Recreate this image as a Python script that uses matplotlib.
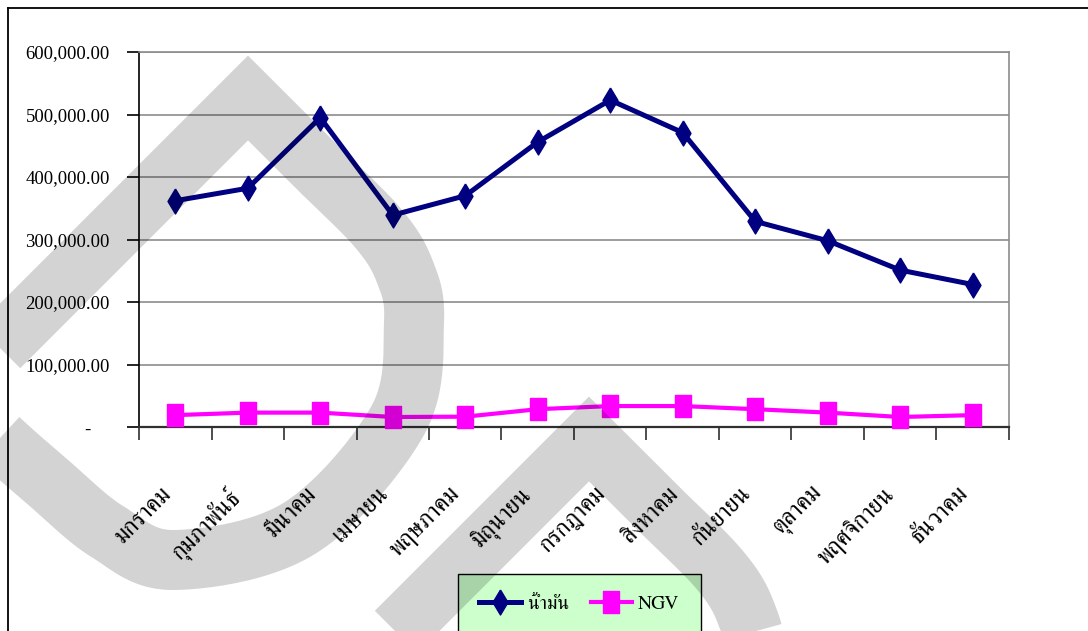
import numpy as np
import matplotlib
matplotlib.use('Agg')
import matplotlib.pyplot as plt
from matplotlib.path import Path
from matplotlib.patches import PathPatch
from matplotlib.lines import Line2D

# ---------------- data ----------------
months = ['มกราคม', 'กุมภาพันธ์', 'มีนาคม', 'เมษายน', 'พฤษภาคม', 'มิถุนายน',
          'กรกฎาคม', 'สิงหาคม', 'กันยายน', 'ตุลาคม', 'พฤศจิกายน', 'ธันวาคม']
oil = [362000, 382000, 495000, 339000, 370000, 456000,
       523000, 471000, 329000, 298000, 251000, 228000]
ngv = [19000, 23000, 23000, 16000, 16500, 28500,
       33500, 33500, 28500, 23000, 16000, 19000]
series_names = ['น้ำมัน', 'NGV']
y_ticks = [0, 100000, 200000, 300000, 400000, 500000, 600000]
y_labels = ['-    ', '100,000.00', '200,000.00', '300,000.00', '400,000.00', '500,000.00', '600,000.00']

# ---------------- fonts ----------------
serif = ['Liberation Serif', 'DejaVu Serif']
thai_family = ['FreeSerif', 'Liberation Serif', 'DejaVu Serif']

W, H = 1088, 631
fig = plt.figure(figsize=(W / 100, H / 100), dpi=100)
fig.patch.set_facecolor('white')

def fx(px):
    return px / W

def fy(py):
    return 1 - py / H

ax = fig.add_axes([fx(139), fy(427), fx(1009) - fx(139), fy(52) - fy(427)])
x = np.arange(len(months))

diamond = [(0, 1), (0.6, 0), (0, -1), (-0.6, 0), (0, 1)]
rect = [(-0.73, -1), (0.73, -1), (0.73, 1), (-0.73, 1), (-0.73, -1)]

ax.plot(x, oil, color='#000080', lw=3.6, marker=diamond, ms=18,
        label=series_names[0], zorder=3, clip_on=False)
ax.plot(x, ngv, color='#FF00FF', lw=3.0, marker=rect, ms=16,
        label=series_names[1], zorder=3, clip_on=False)

ax.set_xlim(-0.5, len(months) - 0.5)
ax.set_ylim(0, 600000)
ax.set_yticks(y_ticks)
ax.set_yticklabels(y_labels, family=serif, fontsize=13.5)
ax.yaxis.grid(True, color='#8c8c8c', lw=1.2)
ax.set_axisbelow(True)
ax.tick_params(axis='y', length=9, width=1.2, pad=12, color='black')

ax.set_xticks(np.arange(-0.5, len(months), 1))
ax.tick_params(axis='x', which='major', length=9.5, width=1.2, labelbottom=False, color='#303030')
ax.set_xticks(x, minor=True)
ax.set_xticklabels(months, minor=True, rotation=45, ha='right', va='top',
                   rotation_mode='default', family=thai_family, fontsize=17)
ax.tick_params(axis='x', which='minor', length=0, pad=40)

for s in ['top', 'right']:
    ax.spines[s].set_color('#8c8c8c')
    ax.spines[s].set_linewidth(1.2)
ax.spines['left'].set_color('black')
ax.spines['left'].set_linewidth(1.2)
ax.spines['bottom'].set_color('#303030')
ax.spines['bottom'].set_linewidth(1.6)

leg = ax.legend(loc='upper left', bbox_to_anchor=(fx(458), fy(574)),
                bbox_transform=fig.transFigure, ncol=2, frameon=True,
                fancybox=False, borderaxespad=0, borderpad=1.1,
                handlelength=2.15, handletextpad=0.3, columnspacing=1.1,
                prop={'family': thai_family, 'size': 14})
leg.get_frame().set_facecolor('#CCFFCC')
leg.get_frame().set_edgecolor('black')
leg.get_frame().set_linewidth(1.0)
leg.get_frame().set_alpha(1)

# figure border (left and top)
fig.add_artist(Line2D([fx(8), fx(8)], [0, fy(8)], color='black', lw=1.3, transform=fig.transFigure))
fig.add_artist(Line2D([fx(8), 1], [fy(8), fy(8)], color='black', lw=1.3, transform=fig.transFigure))

# ---------------- watermark (decoration) ----------------
def catmull(pts, n=24):
    pts = np.asarray(pts, float)
    P = np.vstack([pts[0] * 2 - pts[1], pts, pts[-1] * 2 - pts[-2]])
    out = []
    t = np.linspace(0, 1, n, endpoint=False)[:, None]
    for i in range(1, len(P) - 2):
        p0, p1, p2, p3 = P[i - 1], P[i], P[i + 1], P[i + 2]
        out.append(0.5 * ((2 * p1) + (-p0 + p2) * t + (2 * p0 - 5 * p1 + 4 * p2 - p3) * t ** 2
                          + (-p0 + 3 * p1 - 3 * p2 + p3) * t ** 3))
    out.append(P[-2][None])
    return np.vstack(out)

drop_line = np.array([(-60, 406)])
drop_curve = catmull([(248, 98), (315, 165), (378, 228), (405, 272), (414, 322), (398, 420),
                      (300, 528), (175, 560), (108, 532), (50, 484), (0, 440), (-40, 400)])
drop = np.vstack([drop_line, drop_curve])
for dx, dy in [(0, 0), (341, 341)]:
    pts = drop + np.array([dx, dy])
    verts = np.column_stack([pts[:, 0] / W, 1 - pts[:, 1] / H])
    patch = PathPatch(Path(verts), fill=False, edgecolor=(0, 0, 0, 0.173), lw=60 * 0.72,
                      joinstyle='miter', capstyle='butt', transform=fig.transFigure, zorder=20)
    fig.add_artist(patch)

fig.savefig('out.png', dpi=100)
